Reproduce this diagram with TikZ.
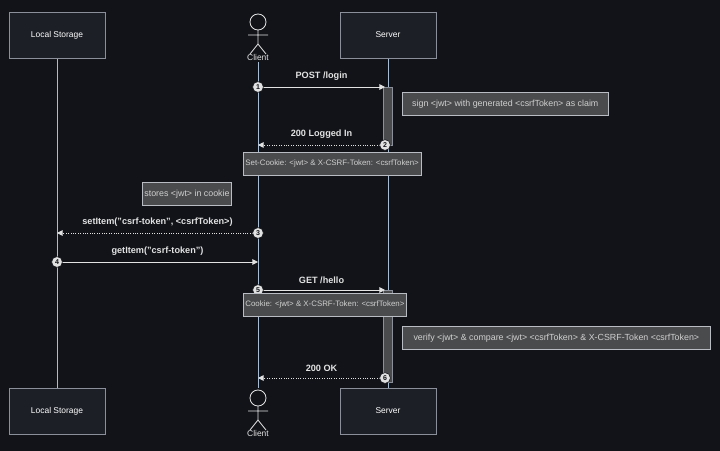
\documentclass[tikz,border=0pt]{standalone}
\usepackage{fontspec}
\setmainfont{Liberation Sans}
\usetikzlibrary{arrows.meta}
\definecolor{bg}{HTML}{111318}
\definecolor{boxfill}{HTML}{1C1F26}
\definecolor{boxline}{HTML}{8A8F99}
\definecolor{lifeline}{HTML}{A8BCD4}
\definecolor{notefill}{HTML}{4A4B4D}
\definecolor{notetext}{HTML}{CFCFCF}
\definecolor{msg}{HTML}{E2E2E2}
\tikzset{
  actorbox/.style={draw=boxline,fill=boxfill,minimum width=2.4cm,minimum height=1.15cm,text=white,font=\fontsize{6}{7}\selectfont},
  note/.style={fill=notefill,draw=boxline!60,text=notetext,font=\fontsize{6.3}{7}\selectfont,inner xsep=1.5pt,inner ysep=2.5pt,minimum height=0.58cm,anchor=north west},
  smallnote/.style={note,font=\fontsize{5.6}{7}\selectfont,minimum width=4cm},
  life/.style={draw=lifeline,line width=0.6pt},
  call/.style={draw=msg,line width=0.7pt,-{Triangle[length=4pt,width=4pt]}},
  reply/.style={call,densely dotted},
  lbl/.style={text=msg,font=\bfseries\fontsize{6.5}{8}\selectfont},
  num/.style={circle,fill=msg,draw=bg,text=bg,inner sep=0pt,minimum size=0.27cm,font=\bfseries\fontsize{5}{6}\selectfont},
  act/.style={fill=notefill,draw=boxline,minimum width=0.18cm,anchor=north}
}
\begin{document}
\begin{tikzpicture}[x=0.025cm,y=-0.025cm]
  \fill[bg] (0,0) rectangle (720,451);
  % lifelines
  \coordinate (ltop) at (57,58);   \coordinate (lbot) at (57,390);
  \coordinate (ctop) at (258,62);  \coordinate (cbot) at (258,388);
  \coordinate (stop) at (388,58);  \coordinate (sbot) at (388,390);
  \draw[life] (ltop) -- (lbot);
  \draw[life] (ctop) -- (cbot);
  \draw[life] (stop) -- (sbot);
  % participants
  \node[actorbox] (local) at (57,35) {Local Storage};
  \node[actorbox] (server) at (388,35) {Server};
  \node[actorbox] (localb) at (57,411) {Local Storage};
  \node[actorbox] (serverb) at (388,411) {Server};
  \foreach \n/\y in {client/22,clientb/398} {
    \draw[msg,line width=0.6pt] (258,\y) circle (8);
    \draw[msg,line width=0.6pt] (258,\y+8) -- (258,\y+22) (248,\y+13) -- (268,\y+13)
      (258,\y+22) -- (250,\y+32) (258,\y+22) -- (266,\y+32);
    \node[text=msg,font=\fontsize{6}{7}\selectfont] (\n) at (258,\y+35) {Client};
  }
  % activations
  \node[act,minimum height=1.45cm] (act1) at (388,87) {};
  \node[act,minimum height=2.3cm] (act2) at (388,290) {};
  % messages
  \coordinate (m1c) at (258,87);  \coordinate (m1s) at (385,87);
  \coordinate (m2s) at (385,145); \coordinate (m2c) at (258,145);
  \coordinate (m3c) at (258,233); \coordinate (m3l) at (57,233);
  \coordinate (m4l) at (57,262);  \coordinate (m4c) at (258,262);
  \coordinate (m5c) at (258,290); \coordinate (m5s) at (385,290);
  \coordinate (m6s) at (385,378); \coordinate (m6c) at (258,378);
  \draw[call] (m1c) -- node[lbl,above=1pt] {POST /login} (m1s);
  \draw[reply] (m2s) -- node[lbl,above=1pt] {200 Logged In} (m2c);
  \draw[reply] (m3c) -- node[lbl,above=1pt] {setItem("csrf-token", <csrfToken>)} (m3l);
  \draw[call] (m4l) -- node[lbl,above=1pt] {getItem("csrf-token")} (m4c);
  \draw[call] (m5c) -- node[lbl,above=1pt] {GET /hello} (m5s);
  \draw[reply] (m6s) -- node[lbl,above=1pt] {200 OK} (m6c);
  \node[num] (n1) at (m1c) {1};
  \node[num] (n2) at (m2s) {2};
  \node[num] (n3) at (m3c) {3};
  \node[num] (n4) at (m4l) {4};
  \node[num] (n5) at (m5c) {5};
  \node[num] (n6) at (m6s) {6};
  % notes
  \node[note,minimum width=5.15cm] (sign) at (402,92) {sign <jwt> with generated <csrfToken> as claim};
  \node[smallnote] (setcookie) at (243,152) {Set-Cookie: <jwt> \& X-CSRF-Token: <csrfToken>};
  \node[note] (stores) at (142,182) {stores <jwt> in cookie};
  \node[smallnote] (cookie) at (243,293) {Cookie: <jwt> \& X-CSRF-Token: <csrfToken>};
  \node[note,minimum width=7.7cm] (verify) at (402,326) {verify <jwt> \& compare <jwt> <csrfToken> \& X-CSRF-Token <csrfToken>};
\end{tikzpicture}
\end{document}
